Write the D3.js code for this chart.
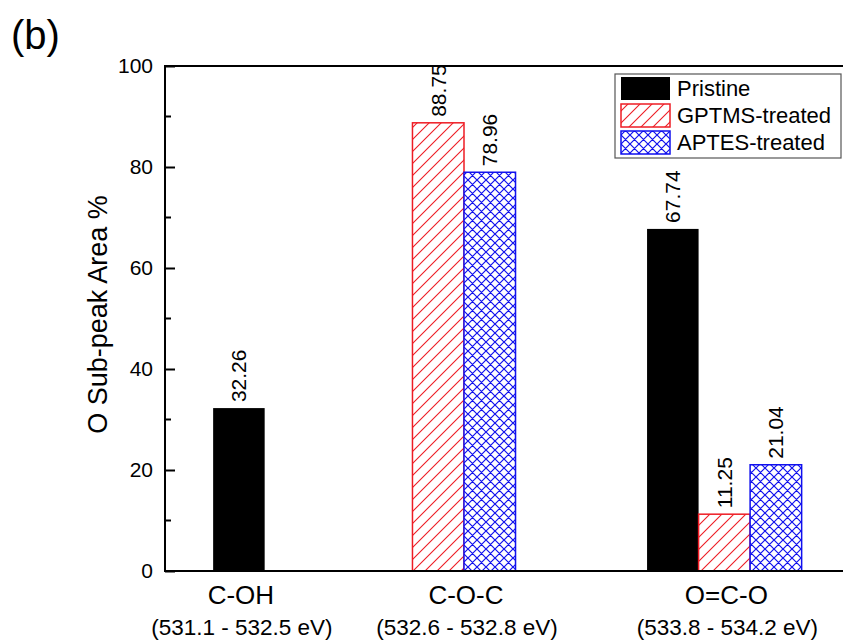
<!DOCTYPE html>
<html>
<head>
<meta charset="utf-8">
<script src="https://cdn.jsdelivr.net/npm/d3@7"></script>
<style>
  html, body { margin: 0; padding: 0; background: #fff; }
  svg { display: block; font-family: Arial, "Liberation Sans", sans-serif; }
</style>
</head>
<body>
<svg id="chart" width="843" height="641"></svg>
<script>
// O 1s sub-peak areas per bonding state
const categories = ["C-OH", "C-O-C", "O=C-O"];
const energyRanges = ["(531.1 - 532.5 eV)", "(532.6 - 532.8 eV)", "(533.8 - 534.2 eV)"];
const seriesNames = ["Pristine", "GPTMS-treated", "APTES-treated"];
const pristine = [32.26, 0, 67.74];
const gptms = [0, 88.75, 11.25];
const aptes = [0, 78.96, 21.04];
// category centres on the x axis (axis units) and bar width in the same units
const categoryX = [1.09, 4.41, 8.25];
const barWidth = 0.76;
const yTicks = [0, 20, 40, 60, 80, 100];
const yMinorTicks = [10, 30, 50, 70, 90];

const svg = d3.select("#chart");
const W = 843, H = 641;
const plotLeft = 165, plotTop = 66, plotBottom = 571;

const x = d3.scaleLinear().domain([0, 10]).range([plotLeft, W]);
const y = d3.scaleLinear().domain([0, 100]).range([plotBottom, plotTop]);

// hatch patterns
const defs = svg.append("defs");
const hatch = defs.append("pattern")
  .attr("id", "hatchRed").attr("patternUnits", "userSpaceOnUse")
  .attr("width", 12).attr("height", 12);
hatch.append("rect").attr("width", 12).attr("height", 12).attr("fill", "#fff");
hatch.append("path")
  .attr("d", "M0,12 L12,0 M-3,3 L3,-3 M9,15 L15,9")
  .attr("stroke", "#ee1c24").attr("stroke-width", 1.1);

const cross = defs.append("pattern")
  .attr("id", "crossBlue").attr("patternUnits", "userSpaceOnUse")
  .attr("width", 9).attr("height", 9);
cross.append("rect").attr("width", 9).attr("height", 9).attr("fill", "#fff");
cross.append("path")
  .attr("d", "M0,0 L9,9 M9,0 L0,9 M-2,7 L2,11 M7,-2 L11,2 M-2,2 L2,-2 M7,11 L11,7")
  .attr("stroke", "#1010ee").attr("stroke-width", 1.2);

const styles = [
  { fill: "#000", stroke: "#000" },
  { fill: "url(#hatchRed)", stroke: "#ee1c24" },
  { fill: "url(#crossBlue)", stroke: "#1010ee" }
];
const seriesValues = [pristine, gptms, aptes];

// build bar records: within each category, non-zero bars are centred on the category position
const bars = [];
categories.forEach((c, ci) => {
  const present = seriesValues.map((v, si) => ({ si, v: v[ci] })).filter(d => d.v > 0);
  const n = present.length;
  present.forEach((d, k) => {
    const cx = categoryX[ci] + (k - (n - 1) / 2) * barWidth;
    bars.push({ ci, si: d.si, value: d.v, x0: cx - barWidth / 2, x1: cx + barWidth / 2, cx });
  });
});

const barG = svg.append("g");
barG.selectAll("rect").data(bars).enter().append("rect")
  .attr("x", d => x(d.x0))
  .attr("y", d => y(d.value))
  .attr("width", d => x(d.x1) - x(d.x0))
  .attr("height", d => y(0) - y(d.value))
  .attr("fill", d => styles[d.si].fill)
  .attr("stroke", d => styles[d.si].stroke)
  .attr("stroke-width", d => d.si === 0 ? 0 : 1.5);

// value labels, rotated
barG.selectAll("text").data(bars).enter().append("text")
  .attr("transform", d => `translate(${x(d.cx) + 7.5},${y(d.value) - 6}) rotate(-90)`)
  .attr("font-size", 21)
  .attr("fill", "#000")
  .text(d => d.value.toFixed(2));

// frame: left axis, top and bottom lines
const axisG = svg.append("g").attr("stroke", "#000").attr("stroke-width", 2).attr("fill", "none");
axisG.append("path").attr("d", `M${plotLeft},${plotTop} H${W} M${plotLeft},${plotBottom} H${W} M${plotLeft},${plotTop - 1} V${plotBottom + 1}`);

// y axis ticks (inside) and labels
const yAxis = d3.axisLeft(y).tickValues(yTicks).tickSize(-10).tickPadding(12).tickFormat(d3.format("d"));
const yg = svg.append("g").attr("transform", `translate(${plotLeft},0)`).call(yAxis);
yg.select(".domain").remove();
yg.selectAll(".tick line").attr("stroke", "#000").attr("stroke-width", 2);
yg.selectAll(".tick text").attr("font-size", 21).attr("font-family", "Arial, 'Liberation Sans', sans-serif").attr("fill", "#000");
svg.append("g").selectAll("line").data(yMinorTicks).enter().append("line")
  .attr("x1", plotLeft).attr("x2", plotLeft + 6)
  .attr("y1", d => y(d)).attr("y2", d => y(d))
  .attr("stroke", "#000").attr("stroke-width", 2);

// y axis title
svg.append("text")
  .attr("transform", `translate(107,${(plotTop + plotBottom) / 2 - 4}) rotate(-90)`)
  .attr("text-anchor", "middle")
  .attr("font-size", 27)
  .text("O Sub-peak Area %");

// category labels
const catG = svg.append("g").attr("text-anchor", "middle");
catG.selectAll("text.cat").data(categories).enter().append("text")
  .attr("class", "cat")
  .attr("x", (d, i) => x(categoryX[i]) + 2)
  .attr("y", 604)
  .attr("font-size", 26)
  .text(d => d);
catG.selectAll("text.rng").data(energyRanges).enter().append("text")
  .attr("class", "rng")
  .attr("x", (d, i) => x(categoryX[i]) + 3)
  .attr("y", 635)
  .attr("font-size", 22.5)
  .text(d => d);

// panel tag
svg.append("text").attr("x", 11).attr("y", 49).attr("font-size", 40).text("(b)");

// legend
const lg = svg.append("g");
lg.append("rect").attr("x", 615).attr("y", 74).attr("width", 226).attr("height", 84)
  .attr("fill", "#fff").attr("stroke", "#555").attr("stroke-width", 1.2);
seriesNames.forEach((name, i) => {
  const ry = 77 + i * 27;
  lg.append("rect").attr("x", 621).attr("y", ry).attr("width", 49).attr("height", 23)
    .attr("fill", styles[i].fill).attr("stroke", styles[i].stroke).attr("stroke-width", i === 0 ? 0 : 1.5);
  lg.append("text").attr("x", 677).attr("y", ry + 19).attr("font-size", 22).text(name);
});
</script>
</body>
</html>
